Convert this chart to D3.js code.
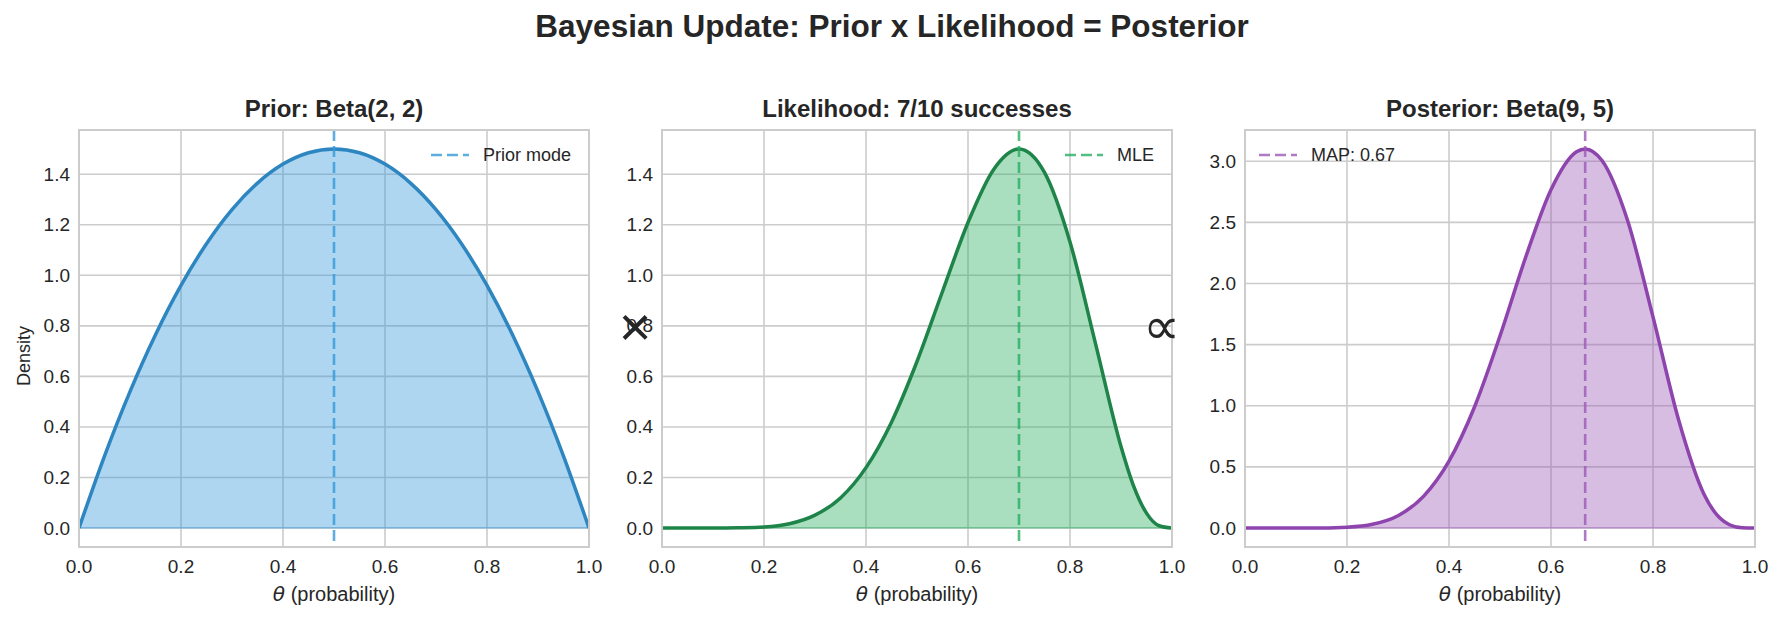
<!DOCTYPE html>
<html>
<head>
<meta charset="utf-8">
<script src="https://cdn.jsdelivr.net/npm/d3@7"></script>
<style>
  body { margin: 0; background: #fff; }
  text { font-family: "Liberation Sans", Arial, sans-serif; fill: #262626; }
</style>
</head>
<body>
<svg id="chart" width="1785" height="622"></svg>
<script>
// values
const theta = [0, 0.05, 0.1, 0.15, 0.2, 0.25, 0.3, 0.35, 0.4, 0.45, 0.5,
               0.55, 0.6, 0.65, 0.7, 0.75, 0.8, 0.85, 0.9, 0.95, 1];
const priorDensity = [0, 0.285, 0.54, 0.765, 0.96, 1.125, 1.26, 1.365, 1.44, 1.485, 1.5,
                      1.485, 1.44, 1.365, 1.26, 1.125, 0.96, 0.765, 0.54, 0.285, 0];
const likeTheta = [0, 0.05, 0.1, 0.15, 0.2, 0.25, 0.3, 0.35, 0.4, 0.45, 0.5,
                   0.55, 0.6, 0.65, 0.7, 0.75, 0.8, 0.85, 0.9, 0.925, 0.95, 0.975, 1];
const likelihood = [0, 0, 0, 0.001, 0.004, 0.017, 0.051, 0.119, 0.239, 0.419, 0.659,
                    0.936, 1.209, 1.418, 1.5, 1.407, 1.132, 0.73, 0.323, 0.165, 0.059, 0.009, 0];
const postTheta = [0, 0.05, 0.1, 0.15, 0.2, 0.25, 0.3, 0.35, 0.4, 0.45, 0.5,
                   0.55, 0.6, 0.65, 0.667, 0.7, 0.75, 0.8, 0.85, 0.9, 0.925, 0.95, 0.975, 1];
const posteriorDensity = [0, 0, 0, 0.001, 0.007, 0.031, 0.101, 0.259, 0.547, 0.99, 1.571,
                          2.21, 2.767, 3.077, 3.1, 3.005, 2.517, 1.727, 0.888, 0.277, 0.109, 0.027, 0.002, 0];

const xTicks = [0, 0.2, 0.4, 0.6, 0.8, 1.0];
const yTicksSmall = [0, 0.2, 0.4, 0.6, 0.8, 1.0, 1.2, 1.4];
const yTicksPost = [0, 0.5, 1.0, 1.5, 2.0, 2.5, 3.0];
const titles = ["Prior: Beta(2, 2)", "Likelihood: 7/10 successes", "Posterior: Beta(9, 5)"];
const markers = [0.5, 0.7, 0.667];
const legendLabels = ["Prior mode", "MLE", "MAP: 0.67"];

const panels = [
  { xs: theta, ys: priorDensity, yTicks: yTicksSmall, line: "#2e86c1", fill: "#3498db", legendAt: "right" },
  { xs: likeTheta, ys: likelihood, yTicks: yTicksSmall, line: "#1e8449", fill: "#27ae60", legendAt: "right" },
  { xs: postTheta, ys: posteriorDensity, yTicks: yTicksPost, line: "#8e44ad", fill: "#9b59b6", legendAt: "left" }
];

const svg = d3.select("#chart");
const lefts = [79, 662, 1245];
const plotTop = 130, W = 510, H = 417;

svg.append("text")
  .attr("x", 892).attr("y", 37)
  .attr("text-anchor", "middle")
  .attr("font-size", "31.5px").attr("font-weight", "bold")
  .text("Bayesian Update: Prior x Likelihood = Posterior");

panels.forEach((p, i) => {
  const g = svg.append("g").attr("transform", `translate(${lefts[i]},${plotTop})`);
  const x = d3.scaleLinear().domain([0, 1]).range([0, W]);
  const maxY = d3.max(p.ys), minY = d3.min(p.ys);
  const pad = (maxY - minY) * 0.05;
  const y = d3.scaleLinear().domain([minY - pad, maxY + pad]).range([H, 0]);

  g.append("clipPath").attr("id", "clip" + i)
    .append("rect").attr("width", W).attr("height", H);

  // grid
  g.selectAll(".gx").data(xTicks).enter().append("line")
    .attr("x1", d => x(d)).attr("x2", d => x(d))
    .attr("y1", 0).attr("y2", H)
    .attr("stroke", "#cccccc").attr("stroke-width", 1.6);
  g.selectAll(".gy").data(p.yTicks).enter().append("line")
    .attr("x1", 0).attr("x2", W)
    .attr("y1", d => y(d)).attr("y2", d => y(d))
    .attr("stroke", "#cccccc").attr("stroke-width", 1.6);

  const pts = p.xs.map((t, k) => [t, p.ys[k]]);
  const plot = g.append("g").attr("clip-path", `url(#clip${i})`);

  plot.append("path")
    .datum(pts)
    .attr("d", d3.area().x(d => x(d[0])).y0(y(0)).y1(d => y(d[1])).curve(d3.curveMonotoneX))
    .attr("fill", p.fill).attr("fill-opacity", 0.4)
    .attr("stroke", p.fill).attr("stroke-opacity", 0.4).attr("stroke-width", 1.5);

  plot.append("path")
    .datum(pts)
    .attr("d", d3.line().x(d => x(d[0])).y(d => y(d[1])).curve(d3.curveMonotoneX))
    .attr("fill", "none").attr("stroke", p.line).attr("stroke-width", 3.5);

  plot.append("line")
    .attr("x1", x(markers[i])).attr("x2", x(markers[i]))
    .attr("y1", 0).attr("y2", H)
    .attr("stroke", p.fill).attr("stroke-opacity", 0.8)
    .attr("stroke-width", 2.6).attr("stroke-dasharray", "11,5");

  // spines
  g.append("rect").attr("width", W).attr("height", H)
    .attr("fill", "none").attr("stroke", "#cccccc").attr("stroke-width", 2);

  // tick labels
  g.selectAll(".tx").data(xTicks).enter().append("text")
    .attr("x", d => x(d)).attr("y", H + 25.5)
    .attr("text-anchor", "middle").attr("font-size", "19px")
    .text(d3.format(".1f"));
  g.selectAll(".ty").data(p.yTicks).enter().append("text")
    .attr("x", -9).attr("y", d => y(d))
    .attr("text-anchor", "end").attr("dominant-baseline", "central")
    .attr("font-size", "19px")
    .text(d3.format(".1f"));

  // axis label
  const xl = g.append("text")
    .attr("x", W / 2).attr("y", H + 54)
    .attr("text-anchor", "middle").attr("font-size", "20px");
  xl.append("tspan").attr("font-family", "DejaVu Sans").attr("font-style", "italic").text("θ");
  xl.append("tspan").text(" (probability)");

  g.append("text")
    .attr("x", W / 2).attr("y", -13)
    .attr("text-anchor", "middle")
    .attr("font-size", "24px").attr("font-weight", "bold")
    .text(titles[i]);

  // legend
  const leg = g.append("g").attr("transform", "translate(0,25)");
  const lt = leg.append("text").attr("dominant-baseline", "central")
    .attr("font-size", "18px").text(legendLabels[i]);
  const tw = lt.node().getComputedTextLength();
  const textX = p.legendAt === "right" ? W - 18 - tw : 66;
  lt.attr("x", textX);
  leg.append("line")
    .attr("x1", textX - 52).attr("x2", textX - 14)
    .attr("y1", 0).attr("y2", 0)
    .attr("stroke", p.fill).attr("stroke-opacity", 0.8)
    .attr("stroke-width", 2.6).attr("stroke-dasharray", "11,5");
});

svg.append("text")
  .attr("transform", "translate(29.5,356) rotate(-90)")
  .attr("text-anchor", "middle").attr("font-size", "18px")
  .text("Density");

// operator symbols between panels
svg.append("text")
  .attr("x", 635).attr("y", 326)
  .attr("text-anchor", "middle").attr("dominant-baseline", "central")
  .attr("font-family", "DejaVu Sans").attr("font-size", "56px")
  .text("×");
svg.append("text")
  .attr("x", 1161).attr("y", 326)
  .attr("text-anchor", "middle").attr("dominant-baseline", "central")
  .attr("font-family", "DejaVu Sans").attr("font-size", "52px")
  .text("∝");
</script>
</body>
</html>
